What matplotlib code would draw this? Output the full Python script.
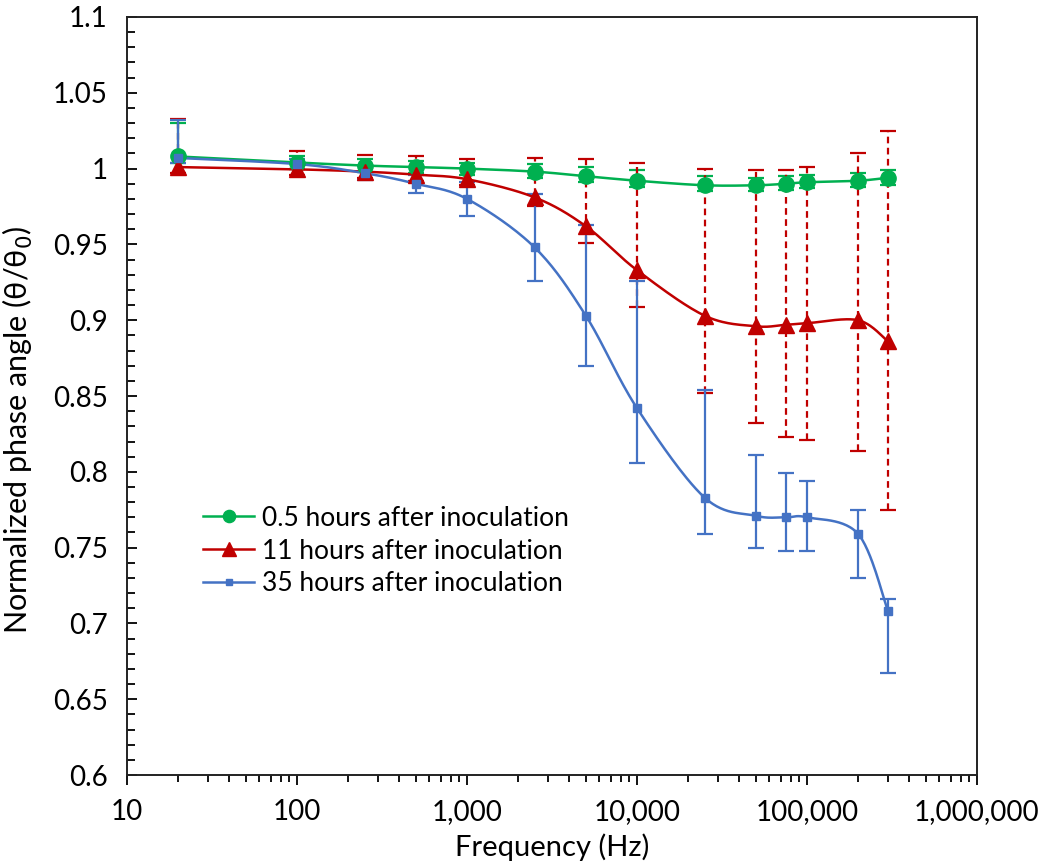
import numpy as np
import matplotlib
matplotlib.use('Agg')
import matplotlib.pyplot as plt
from matplotlib.ticker import FuncFormatter, LogLocator, MultipleLocator, NullFormatter

plt.rcParams['font.family'] = ['Lato', 'DejaVu Sans']

# ------ data ------
freq = [20, 100, 250, 500, 1000, 2500, 5000, 10000, 25000, 50000, 75000, 100000, 200000, 300000]

green = [1.008, 1.004, 1.002, 1.001, 1.000, 0.998, 0.995, 0.992, 0.989, 0.989, 0.990, 0.991, 0.992, 0.994]
green_up = [0.022, 0.004, 0.004, 0.004, 0.004, 0.005, 0.006, 0.007, 0.006, 0.005, 0.005, 0.005, 0.005, 0.005]
green_lo = [0.004, 0.004, 0.004, 0.004, 0.004, 0.004, 0.004, 0.004, 0.004, 0.004, 0.004, 0.004, 0.004, 0.005]

red = [1.001, 0.9995, 0.998, 0.996, 0.993, 0.981, 0.962, 0.933, 0.903, 0.896, 0.897, 0.898, 0.900, 0.886]
red_up = [0.032, 0.012, 0.011, 0.012, 0.013, 0.026, 0.044, 0.071, 0.097, 0.103, 0.102, 0.103, 0.110, 0.139]
red_lo = [0.004, 0.004, 0.004, 0.004, 0.004, 0.006, 0.011, 0.024, 0.051, 0.064, 0.074, 0.077, 0.086, 0.111]

blue = [1.007, 1.003, 0.997, 0.990, 0.980, 0.948, 0.903, 0.842, 0.783, 0.771, 0.770, 0.770, 0.759, 0.708]
blue_up = [0.025, 0.003, 0.0045, 0.006, 0.011, 0.035, 0.060, 0.084, 0.071, 0.040, 0.029, 0.024, 0.016, 0.008]
blue_lo = [0.003, 0.003, 0.0045, 0.006, 0.011, 0.022, 0.033, 0.036, 0.024, 0.021, 0.022, 0.022, 0.029, 0.041]

labels = ['0.5 hours after inoculation', '11 hours after inoculation', '35 hours after inoculation']
colors = ['#00B050', '#C00000', '#4472C4']
markers = ['o', '^', 's']
msizes = [11, 12, 6]


# Excel-like smoothed line (bezier through the points, done in screen-ish units)
def smooth(x, y, n=30):
    u = np.log10(x) * 170.0
    v = np.array(y) * 1518.0
    pts = np.column_stack([u, v])
    out = []
    for i in range(len(pts) - 1):
        p0 = pts[max(i - 1, 0)]
        p1 = pts[i]
        p2 = pts[i + 1]
        p3 = pts[min(i + 2, len(pts) - 1)]
        c1 = p1 + (p2 - p0) / 6.0
        c2 = p2 - (p3 - p1) / 6.0
        t = np.linspace(0, 1, n)[:, None]
        seg = (1 - t) ** 3 * p1 + 3 * (1 - t) ** 2 * t * c1 + 3 * (1 - t) * t ** 2 * c2 + t ** 3 * p2
        out.append(seg)
    out = np.vstack(out)
    return 10 ** (out[:, 0] / 170.0), out[:, 1] / 1518.0


fig = plt.figure(figsize=(10.42, 8.66), dpi=100)
ax = fig.add_axes([0.1219, 0.105, 0.8157, 0.8754])

series = [(green, green_lo, green_up), (red, red_lo, red_up), (blue, blue_lo, blue_up)]
for k, (vals, lo, up) in enumerate(series):
    eb = ax.errorbar(freq, vals, yerr=[lo, up], fmt='none', ecolor=colors[k],
                     elinewidth=1.6, capsize=6, capthick=1.6, zorder=2)
    if k == 1:
        eb[2][0].set_linestyle((0, (3, 2)))

for k, (vals, lo, up) in enumerate(series):
    sx, sy = smooth(freq, vals)
    ax.plot(sx, sy, color=colors[k], lw=1.8, zorder=3)
    ax.plot(freq, vals, linestyle='none', marker=markers[k], ms=msizes[k],
            color=colors[k], zorder=4)
    # legend proxy
    ax.plot([], [], color=colors[k], lw=1.8, marker=markers[k], ms=msizes[k] * 0.8,
            label=labels[k])

ax.set_xscale('log')
ax.set_xlim(10, 1000000)
ax.set_ylim(0.6, 1.1)

ax.xaxis.set_major_locator(LogLocator(base=10, numticks=10))
ax.xaxis.set_minor_locator(LogLocator(base=10, subs=np.arange(2, 10), numticks=20))
ax.xaxis.set_minor_formatter(NullFormatter())
ax.xaxis.set_major_formatter(FuncFormatter(lambda v, p: '{:,.0f}'.format(v)))

ax.yaxis.set_major_locator(MultipleLocator(0.05))
ax.yaxis.set_minor_locator(MultipleLocator(0.01))
ax.yaxis.set_major_formatter(FuncFormatter(lambda v, p: '{:g}'.format(round(v, 2))))

ax.tick_params(axis='x', which='major', direction='out', length=7, width=1.3, labelsize=20, pad=10)
ax.tick_params(axis='x', which='minor', direction='out', length=5, width=1.3)
ax.tick_params(axis='y', which='major', direction='in', length=7, width=1.3, labelsize=20, pad=14)
ax.tick_params(axis='y', which='minor', direction='in', length=6, width=1.3)

for s in ax.spines.values():
    s.set_linewidth(1.4)
    s.set_color('#222222')

ax.set_xlabel('Frequency (Hz)', fontsize=21, labelpad=6)
ax.set_ylabel('Normalized phase angle (θ/θ$_0$)', fontsize=22)
ax.yaxis.set_label_coords(-0.108, 0.455)

ax.legend(loc='center left', bbox_to_anchor=(0.062, 0.2955), frameon=False, fontsize=19,
          handlelength=1.9, labelspacing=0.3, handletextpad=0.3)

plt.savefig('out.png', dpi=100)
